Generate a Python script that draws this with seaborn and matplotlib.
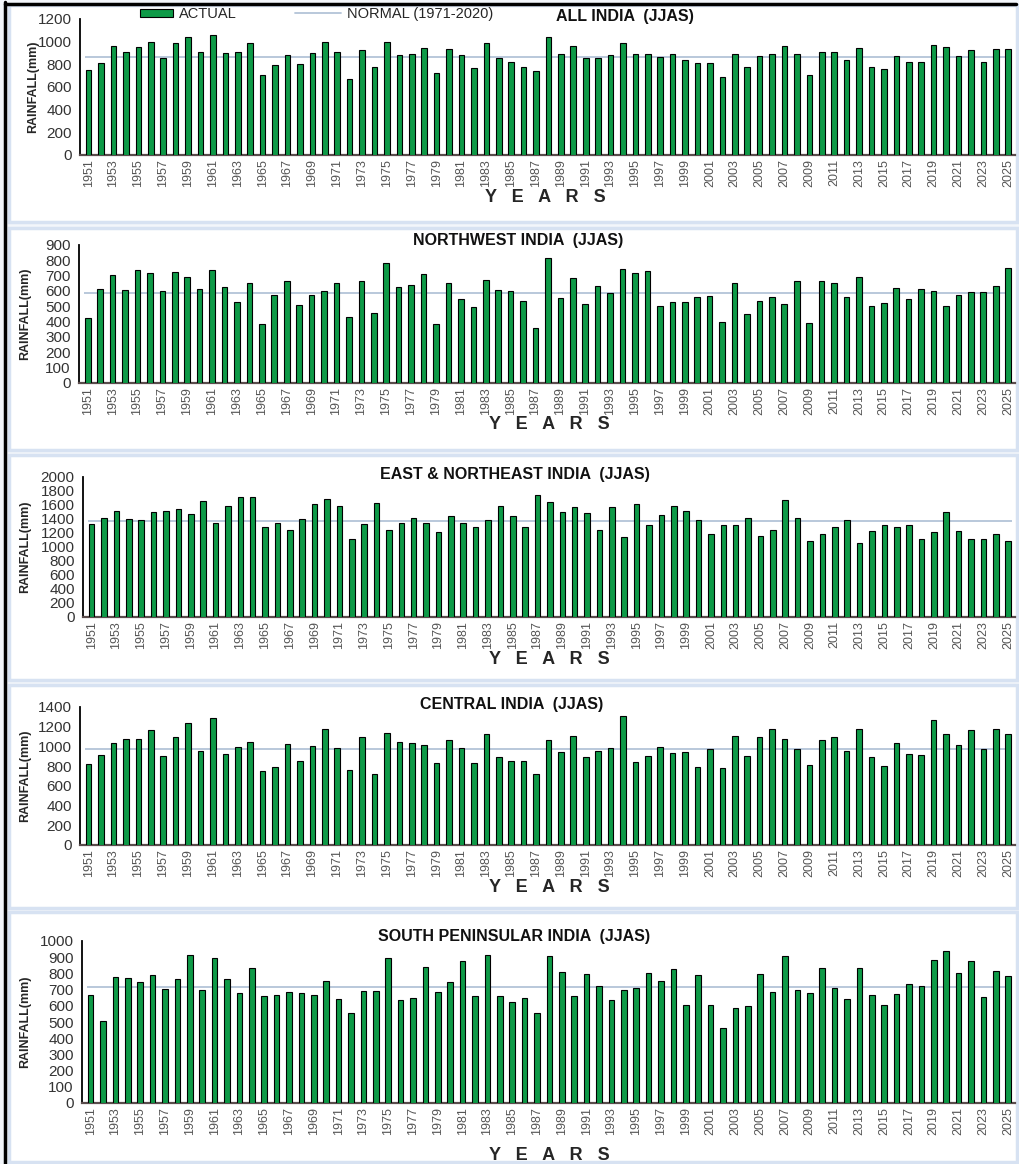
import matplotlib
matplotlib.use('Agg')
import matplotlib.pyplot as plt
import seaborn as sns
import numpy as np
from matplotlib.patches import Patch, Rectangle
from matplotlib.lines import Line2D
from matplotlib.legend_handler import HandlerPatch

# JJAS seasonal rainfall (mm), 1951-2025
years = list(range(1951, 2026))

all_india = [750, 815, 960, 910, 950, 995, 860, 990, 1040, 910,
             1055, 900, 905, 990, 705, 790, 880, 800, 900, 995,
             910, 675, 925, 775, 995, 885, 895, 940, 725, 935,
             880, 765, 990, 860, 820, 780, 740, 1045, 890, 960,
             860, 860, 880, 985, 895, 895, 865, 890, 840, 815,
             810, 690, 895, 780, 875, 895, 965, 895, 710, 910,
             910, 835, 940, 780, 760, 875, 820, 820, 970, 955,
             875, 925, 820, 935, 935]

northwest = [425, 615, 705, 605, 735, 718, 600, 727, 692, 610,
             738, 623, 527, 655, 382, 577, 662, 510, 573, 601,
             655, 432, 666, 456, 781, 629, 642, 709, 382, 649,
             545, 495, 672, 608, 600, 536, 358, 813, 553, 688,
             518, 633, 588, 742, 718, 731, 499, 531, 531, 560,
             568, 399, 653, 447, 536, 560, 516, 666, 390, 666,
             649, 560, 694, 505, 523, 618, 549, 614, 601, 505,
             577, 594, 594, 631, 750]

east_ne = [1330, 1420, 1520, 1400, 1380, 1500, 1510, 1540, 1470, 1660,
           1340, 1580, 1720, 1720, 1290, 1350, 1240, 1400, 1610, 1690,
           1590, 1110, 1330, 1630, 1250, 1350, 1410, 1350, 1210, 1450,
           1340, 1280, 1390, 1580, 1450, 1290, 1740, 1650, 1500, 1570,
           1490, 1240, 1570, 1150, 1610, 1320, 1460, 1580, 1520, 1380,
           1180, 1310, 1310, 1420, 1160, 1240, 1670, 1410, 1090, 1180,
           1290, 1380, 1060, 1230, 1320, 1290, 1320, 1120, 1220, 1500,
           1230, 1120, 1110, 1180, 1090]

central = [820, 910, 1030, 1080, 1075, 1170, 900, 1095, 1240, 950,
           1290, 920, 995, 1045, 755, 790, 1020, 850, 1005, 1180,
           985, 760, 1100, 720, 1140, 1045, 1030, 1010, 830, 1070,
           985, 835, 1130, 895, 850, 854, 719, 1066, 945, 1110,
           897, 951, 982, 1312, 847, 904, 995, 938, 945, 796,
           978, 783, 1110, 904, 1096, 1174, 1076, 978, 813, 1063,
           1096, 951, 1181, 891, 806, 1039, 924, 918, 1272, 1130,
           1016, 1167, 978, 1174, 1130]

south_pen = [664, 506, 777, 773, 750, 791, 701, 768, 916, 697,
             898, 768, 680, 836, 662, 668, 686, 680, 668, 756,
             645, 553, 691, 691, 893, 637, 648, 838, 686, 746,
             877, 662, 916, 662, 623, 650, 555, 906, 807, 662,
             795, 721, 633, 699, 709, 803, 756, 828, 605, 791,
             605, 465, 584, 600, 795, 686, 906, 699, 680, 832,
             709, 639, 832, 664, 605, 674, 734, 721, 885, 936,
             803, 875, 652, 816, 787]

# normals (1971-2020)
normals = [868.6, 587.6, 1367.3, 978.0, 716.2]
titles = ['ALL INDIA  (JJAS)', 'NORTHWEST INDIA  (JJAS)', 'EAST & NORTHEAST INDIA  (JJAS)',
          'CENTRAL INDIA  (JJAS)', 'SOUTH PENINSULAR INDIA  (JJAS)']
series = [all_india, northwest, east_ne, central, south_pen]
ymax = [1200, 900, 2000, 1400, 1000]
ystep = [200, 100, 200, 200, 100]

GREEN = '#0e9a47'
NORMAL_C = '#b3c4d8'

W, H = 1019, 1164
sns.set_style('white')
plt.rcParams['font.family'] = ['Liberation Sans', 'DejaVu Sans']

fig = plt.figure(figsize=(W / 100, H / 100), dpi=100, facecolor='#f3f6fb')

# pixel layout of each panel
layout = [
    dict(left=80, top=19, bottom=155, title=(625, 17), years=(545, 198), ylx=33, frame=(5, 222)),
    dict(left=79, top=245, bottom=383, title=(518, 241), years=(549, 425), ylx=25, frame=(228, 450)),
    dict(left=83, top=477, bottom=617, title=(515, 474), years=(549, 660), ylx=25, frame=(455, 680)),
    dict(left=80, top=707, bottom=845, title=(512, 705), years=(549, 888), ylx=25, frame=(685, 908)),
    dict(left=82, top=941, bottom=1103, title=(514, 936), years=(549, 1155), ylx=25, frame=(912, 1162)),
]
RIGHT = 1015


def fx(x):
    return x / W


def fy(y):
    return 1 - y / H


def narrow_patch(legend, orig_handle, xdescent, ydescent, width, height, fontsize):
    # legend box for bars is shorter than the line sample, right-aligned to the text
    w = width * 0.7
    return Rectangle((-xdescent + width - w, -ydescent), w, height)


# panel frames
for lay in layout:
    t, b = lay['frame']
    fig.add_artist(Rectangle((fx(9), fy(b)), fx(1017) - fx(9), fy(t) - fy(b),
                             facecolor='white', edgecolor='#d7e2f2', lw=2.5, zorder=0))
fig.add_artist(Line2D([fx(5), fx(5)], [fy(2), fy(1164)], color='black', lw=2.5))
fig.add_artist(Line2D([fx(5), fx(1016)], [fy(4), fy(4)], color='black', lw=2.5))

for i, lay in enumerate(layout):
    ax = fig.add_axes([fx(lay['left']), fy(lay['bottom']),
                       fx(RIGHT) - fx(lay['left']), (lay['bottom'] - lay['top']) / H])
    ax.set_facecolor('none')
    sns.barplot(x=years, y=series[i], ax=ax, color=GREEN, saturation=1,
                edgecolor='black', linewidth=0.8, width=0.45, zorder=3)
    ax.hlines(normals[i], -0.3, len(years) - 0.7, color=NORMAL_C, lw=1.3, zorder=2)

    ax.set_xlim(-0.7, len(years) - 0.45)
    ax.set_ylim(0, ymax[i])
    ax.set_yticks(np.arange(0, ymax[i] + 1, ystep[i]))
    ax.set_xticks(range(0, len(years), 2))
    ax.set_xticklabels([str(y) for y in years[::2]], rotation=90, fontsize=9, color='#555555')
    ax.tick_params(axis='y', direction='out', length=4, width=1, color='black',
                   labelsize=11, labelcolor='#333333', pad=2)
    ax.tick_params(axis='x', length=0, pad=3)

    for s in ['top', 'right']:
        ax.spines[s].set_visible(False)
    ax.spines['left'].set_color('black')
    ax.spines['left'].set_linewidth(1.3)
    ax.spines['bottom'].set_color('#5a4c4c')
    ax.spines['bottom'].set_linewidth(1.6)

    axw = RIGHT - lay['left']
    axh = lay['bottom'] - lay['top']
    ax.set_ylabel('RAINFALL(mm)', fontsize=9, fontweight='bold',
                  family=['Liberation Sans Narrow', 'Liberation Sans'])
    ax.yaxis.label.set_va('center')
    ax.yaxis.set_label_coords((lay['ylx'] - lay['left']) / axw, 0.5)
    ax.set_xlabel('Y   E   A   R   S', fontsize=13, fontweight='bold')
    ax.xaxis.set_label_coords((lay['years'][0] - lay['left']) / axw,
                              (lay['bottom'] - lay['years'][1]) / axh)
    ax.xaxis.label.set_va('center')

    fig.text(fx(lay['title'][0]), fy(lay['title'][1]), titles[i], ha='center', va='center',
             fontsize=11.5, fontweight='bold', color='#111111')

    if i == 0:
        bar_handle = Patch(facecolor=GREEN, edgecolor='black', lw=0.8)
        handles = [bar_handle, Line2D([], [], color=NORMAL_C, lw=1.3)]
        ax.legend(handles, ['ACTUAL', 'NORMAL (1971-2020)'], ncol=2, frameon=False,
                  loc='center left', bbox_to_anchor=((126 - lay['left']) / axw, 1 + 5 / axh),
                  borderpad=0, borderaxespad=0, handlelength=3.2, handleheight=0.5,
                  handletextpad=0.4, columnspacing=4.0, fontsize=10.5,
                  handler_map={bar_handle: HandlerPatch(patch_func=narrow_patch)})

fig.savefig('out.png', dpi=100, facecolor=fig.get_facecolor())
